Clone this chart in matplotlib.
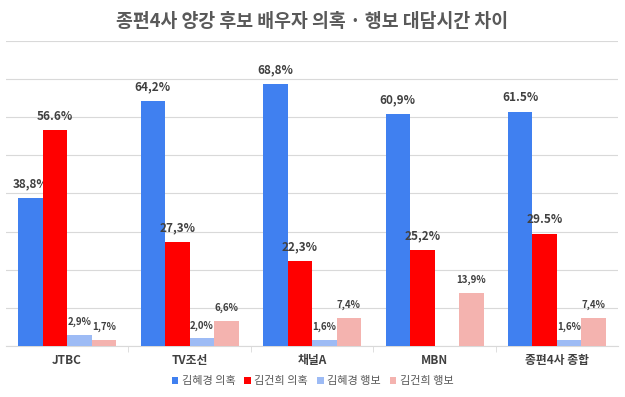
import matplotlib.pyplot as plt
import numpy as np

plt.rcParams["font.family"] = ["Noto Sans CJK KR", "DejaVu Sans"]

categories = ["JTBC", "TV조선", "채널A", "MBN", "종편4사 종합"]
series_names = ["김혜경 의혹", "김건희 의혹", "김혜경 행보", "김건희 행보"]
kim_hk_doubt = [38.8, 64.2, 68.8, 60.9, 61.5]
kim_gh_doubt = [56.6, 27.3, 22.3, 25.2, 29.5]
kim_hk_move = [2.9, 2.0, 1.6, 0.0, 1.6]
kim_gh_move = [1.7, 6.6, 7.4, 13.9, 7.4]
colors = ["#4080F0", "#FF0000", "#9DBBF5", "#F4B3AF"]
# labels that appear with a period instead of a comma in the source
period_labels = {(1, 0), (0, 4), (1, 4)}

series = [kim_hk_doubt, kim_gh_doubt, kim_hk_move, kim_gh_move]


def fmt(v, s, c):
    txt = f"{v:.1f}%"
    if (s, c) not in period_labels:
        txt = txt.replace(".", ",")
    return txt


fig = plt.figure(figsize=(6.25, 3.97), dpi=100)
ax = fig.add_axes([0.0096, 0.1285, 0.9795, 0.7682])

x = np.arange(len(categories))
w = 0.2
for s, (vals, col, name) in enumerate(zip(series, colors, series_names)):
    pos = x + (s - 1.5) * w
    ax.bar(pos, vals, width=w, color=col, label=name, zorder=3)
    for c, v in enumerate(vals):
        if v == 0:
            continue
        size = 8.5 if s < 2 else 7
        ax.text(pos[c], v + 2.0, fmt(v, s, c), ha="center", va="bottom",
                fontsize=size, fontweight="bold", color="#404040")

ax.set_xlim(-0.5, len(categories) - 0.5)
ax.set_ylim(0, 80)
ax.set_yticks(np.arange(0, 81, 10))
ax.yaxis.grid(True, color="#D9D9D9", linewidth=0.8, zorder=0)
ax.tick_params(axis="y", left=False, labelleft=False)
for sp in ["top", "right", "left"]:
    ax.spines[sp].set_visible(False)
ax.spines["bottom"].set_color("#D9D9D9")

ax.set_xticks(x)
ax.set_xticklabels(categories, fontsize=8.5, fontweight="bold", color="#404040")
ax.tick_params(axis="x", length=0, pad=6)
ax.set_xticks(np.arange(0.5, len(categories) - 1, 1), minor=True)
ax.tick_params(axis="x", which="minor", length=4, color="#D9D9D9")

fig.text(0.5, 0.945, "종편4사 양강 후보 배우자 의혹 · 행보 대담시간 차이",
         ha="center", va="center", fontsize=13.2, fontweight="bold", color="#595959")

fig.legend(loc="center", bbox_to_anchor=(0.5, 0.04), ncol=4, frameon=False,
           fontsize=8, handlelength=0.6, handleheight=0.6, handletextpad=0.3,
           columnspacing=0.8, labelcolor="#595959")

fig.savefig("out.png", dpi=100)
